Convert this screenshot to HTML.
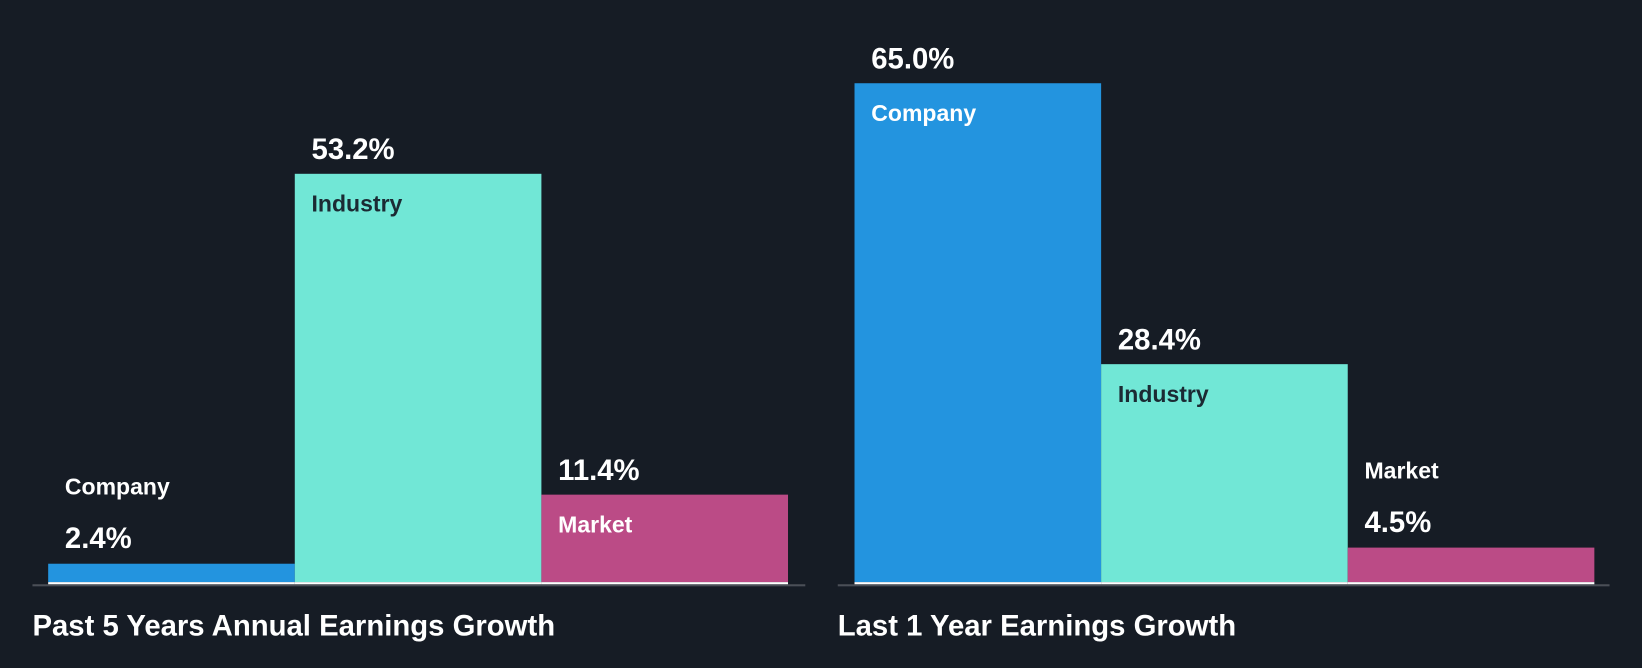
<!DOCTYPE html>
<html><head><meta charset="utf-8">
<style>
html,body{margin:0;padding:0;background:#161c25;}
svg{display:block;font-family:"Liberation Sans",Arial,sans-serif;}
</style></head>
<body>
<svg id="chart" width="1642" height="668" viewBox="0 0 1568 638" preserveAspectRatio="none" xmlns="http://www.w3.org/2000/svg">
<rect x="0" y="0" width="1568" height="638" fill="#161c25"/>
</svg>
<script>
const categories = ["Company", "Industry", "Market"];
const past5Values = [2.4, 53.2, 11.4];
const last1Values = [65.0, 28.4, 4.5];
const panelTitles = ["Past 5 Years Annual Earnings Growth", "Last 1 Year Earnings Growth"];

const colors = ["#2394df", "#71e7d6", "#bb4b86"];
const labelColors = ["#ffffff", "#1b2a33", "#ffffff"];
const svg = document.getElementById('chart');
const NS = 'http://www.w3.org/2000/svg';
const baseY = 556;
const pxPerPct = 390 / 53.2;
function yScale(v){ return baseY - v * pxPerPct; }

const panels = [
  {vals: past5Values, x0: 46, axisX0: 31, axisX1: 769, titleX: 31, name: 'past-5-years'},
  {vals: last1Values, x0: 816, axisX0: 800, axisX1: 1537, titleX: 800, name: 'last-1-year'}
];
const barW = 235.5;

function mk(tag, attrs){
  const e = document.createElementNS(NS, tag);
  for (const k in attrs) e.setAttribute(k, attrs[k]);
  return e;
}

panels.forEach((p, pi) => {
  const g = mk('g', {});
  
  
  svg.appendChild(g);

  const axis = mk('rect', {x: p.axisX0, y: 558, width: p.axisX1 - p.axisX0, height: 2, fill: '#4a4f57'});
  
  
  g.appendChild(axis);

  p.vals.forEach((v, i) => {
    const x = p.x0 + i * barW;
    const top = yScale(v);
    const bar = mk('rect', {x: x, y: top, width: barW, height: baseY - top, fill: colors[i]});
    
    
    g.appendChild(bar);

    const wl = mk('rect', {x: x, y: baseY, width: barW, height: 2, fill: '#ffffff'});
    
    
    g.appendChild(wl);

    const tall = (baseY - top) > 60;
    const val = mk('text', {x: x + 16, 'font-size': 28, 'font-weight': 'bold', fill: '#ffffff'});
    val.textContent = v.toFixed(1) + '%';
    
    
    const cat = mk('text', {x: x + 16, 'font-size': 22, 'font-weight': 'bold'});
    cat.textContent = categories[i];
    
    
    if (tall) {
      val.setAttribute('y', top - 14);
      cat.setAttribute('y', top + 36);
      cat.setAttribute('fill', labelColors[i]);
    } else {
      val.setAttribute('y', top - 15);
      cat.setAttribute('y', top - 66);
      cat.setAttribute('fill', '#ffffff');
    }
    g.appendChild(val);
    g.appendChild(cat);
  });

  const t = mk('text', {x: p.titleX, y: 607, 'font-size': 28, 'font-weight': 'bold', fill: '#ffffff'});
  t.textContent = panelTitles[pi];
  
  
  g.appendChild(t);
});
</script>
</body></html>
